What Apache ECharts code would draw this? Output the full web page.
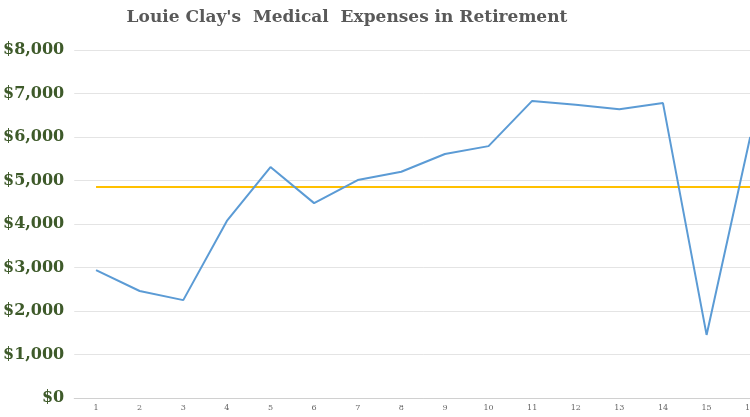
<!DOCTYPE html><html><head><meta charset="utf-8"><script src="https://cdn.jsdelivr.net/npm/echarts@6/dist/echarts.min.js"></script></head><body style="margin:0;overflow:hidden"><div id="c" style="width:772px;height:417px"></div><script>
const categories=['1','2','3','4','5','6','7','8','9','10','11','12','13','14','15','16'];
const expenses=[2940,2460,2250,4070,5310,4480,5010,5200,5610,5790,6830,6740,6640,6780,1450,6000];
const average=4850;
const ch=echarts.init(document.getElementById('c'));
ch.setOption({
 backgroundColor:'#fff',
 title:{text:"Louie Clay's  Medical  Expenses in Retirement",left:342,top:4,textAlign:'center',textStyle:{fontFamily:'DejaVu Serif',fontSize:17,fontWeight:'bold',color:'#595959'}},
 grid:{left:71,right:0,top:50,bottom:19},
 xAxis:{type:'category',data:categories,boundaryGap:true,axisTick:{show:false},axisLine:{lineStyle:{color:'#d0d0d0'}},axisLabel:{fontSize:8,color:'#666',fontFamily:'DejaVu Serif',margin:6}},
 yAxis:{type:'value',min:0,max:8000,interval:1000,axisLine:{show:false},axisTick:{show:false},splitLine:{lineStyle:{color:'#e4e4e4'}},
  axisLabel:{margin:10,fontFamily:'DejaVu Serif',fontWeight:'bold',fontSize:16,color:'#3e5a2a',formatter:v=>'$'+v.toLocaleString('en-US')}},
 series:[
  {type:'line',data:expenses,symbol:'none',lineStyle:{color:'#5b9bd5',width:2},z:3},
  {type:'line',data:categories.map(()=>average),symbol:'none',lineStyle:{color:'#ffc000',width:2},z:2}
 ]
});
</script></body></html>
